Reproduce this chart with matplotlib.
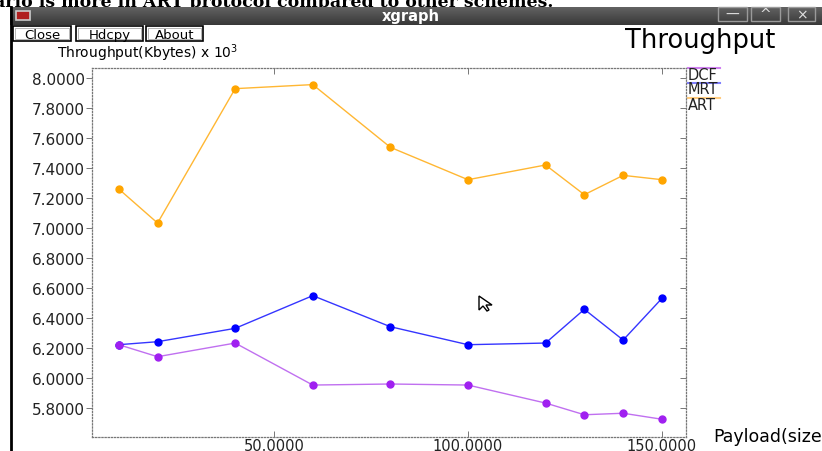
import numpy as np
import matplotlib.pyplot as plt
from matplotlib.patches import Rectangle, Polygon

# payload sizes and throughput (Kbytes x 10^3) per scheme
payload = [10, 20, 40, 60, 80, 100, 120, 130, 140, 150]
art = [7.262, 7.035, 7.931, 7.958, 7.540, 7.324, 7.422, 7.224, 7.353, 7.324]
mrt = [6.224, 6.244, 6.333, 6.551, 6.344, 6.224, 6.235, 6.460, 6.255, 6.533]
dcf = [6.224, 6.144, 6.235, 5.955, 5.962, 5.955, 5.835, 5.757, 5.767, 5.727]

x_ticks = [50, 100, 150]
y_ticks = [5.8, 6.0, 6.2, 6.4, 6.6, 6.8, 7.0, 7.2, 7.4, 7.6, 7.8, 8.0]

W, H = 822, 452
fig = plt.figure(figsize=(W / 100, H / 100), dpi=100)
fig.patch.set_facecolor('white')

# window chrome drawn in pixel coords
bg = fig.add_axes([0, 0, 1, 1])
bg.set_xlim(0, W)
bg.set_ylim(H, 0)
bg.axis('off')

# bit of document text above the window, mostly hidden by the title bar
bg.text(-6, 7, "ario is more in ART protocol compared to other schemes.",
        family='DejaVu Serif', fontsize=12.5, weight='bold', va='baseline',
        ha='left', zorder=0)

# title bar
for i, c in enumerate(np.linspace(0.38, 0.22, 18)):
    bg.add_patch(Rectangle((10, 8 + i), W - 10, 1, color=(c, c, c), lw=0, zorder=2))
bg.text(411, 17, "xgraph", color='white', weight='bold', fontsize=10.5,
        ha='center', va='center', zorder=5)
bg.add_patch(Rectangle((16, 12), 14, 9, fc='#b02020', ec='#cccccc', lw=1.2, zorder=4))
for x0, x1, sym in [(718, 747, '\u2014'), (751, 780, '^'), (788, 815, '\u00d7')]:
    bg.add_patch(Rectangle((x0, 8), x1 - x0, 14, fc='none', ec='#9a9a9a', lw=1, zorder=4))
    bg.text((x0 + x1) / 2, 15, sym, color='#e0e0e0', fontsize=10,
            ha='center', va='center', zorder=5)
bg.plot([10.5, 10.5], [8, H], color='black', lw=2)

# buttons
for x0, x1, lab in [(13, 71, 'Close'), (76, 143, 'Hdcpy'), (146, 203, 'About')]:
    bg.add_patch(Rectangle((x0, 27), x1 - x0, 15, fc='white', ec='black', lw=1.2))
    bg.add_patch(Rectangle((x0 + 2, 29), x1 - x0 - 4, 11, fc='none', ec='#999999', lw=0.5))
    bg.text((x0 + x1) / 2, 39, lab, fontsize=9.5, ha='center', va='baseline',
            zorder=5)

bg.text(625, 41, "Throughput", fontsize=18.5, ha='left', va='center')
bg.text(57, 53, "Throughput(Kbytes) x 10$^3$", fontsize=10, ha='left', va='center')
bg.text(713, 437, "Payload(size)", fontsize=12.5, ha='left', va='center')

# legend at the right edge
for y, col, lab in [(69, '#d080f0', 'DCF'), (84, '#8080ff', 'MRT'), (99, '#ffcc80', 'ART')]:
    bg.plot([688, 720], [y, y], color=col, lw=1.5)
    bg.text(688, y + 6, lab, fontsize=10.5, ha='left', va='center', color='#222222')

# plot area
left, right, top, bottom = 92, 686, 69.3, 437.7
ax = fig.add_axes([left / W, (H - bottom) / H, (right - left) / W, (bottom - top) / H])
ax.patch.set_alpha(0)

ax.plot(payload, art, color='#ffb733', lw=1, marker='o', ms=5,
        mfc='#ffa500', mec='#ffa500')
ax.plot(payload, mrt, color='#3535ff', lw=1, marker='o', ms=5,
        mfc='#0000ff', mec='#0000ff')
ax.plot(payload, dcf, color='#c070f0', lw=1, marker='o', ms=5,
        mfc='#a020f0', mec='#a020f0')

ax.set_xlim(3.1, 156.2)
ax.set_ylim(8.0 - (bottom - 79.3) / 150, 8.0 + (79.3 - top) / 150)
ax.set_xticks(x_ticks)
ax.set_yticks(y_ticks)
ax.set_xticklabels(['%.4f' % v for v in x_ticks])
ax.set_yticklabels(['%.4f' % v for v in y_ticks])

for s in ax.spines.values():
    s.set_linestyle((0, (1, 1.5)))
    s.set_color('#777777')
    s.set_linewidth(0.9)

ax.tick_params(axis='y', direction='out', length=4, width=0.7, color='#777777',
               labelsize=11, labelcolor='#222222', pad=1)
ax.tick_params(axis='x', direction='in', length=4, width=0.7, color='#777777',
               labelsize=10.5, labelcolor='#222222', pad=1)

sec_r = ax.secondary_yaxis('right')
sec_r.set_yticks(y_ticks)
sec_r.tick_params(direction='in', length=4, width=0.7, color='#777777', labelright=False)
sec_r.spines['right'].set_visible(False)
sec_t = ax.secondary_xaxis('top')
sec_t.set_xticks(x_ticks)
sec_t.tick_params(direction='in', length=4, width=0.7, color='#777777', labeltop=False)
sec_t.spines['top'].set_visible(False)

# mouse pointer
bg.add_patch(Polygon([(479, 297), (479, 311), (483, 307), (487, 312), (489, 311),
                      (486, 306), (492, 306)], closed=True, fc='white', ec='black', lw=1))

fig.savefig('out.png', dpi=100)
